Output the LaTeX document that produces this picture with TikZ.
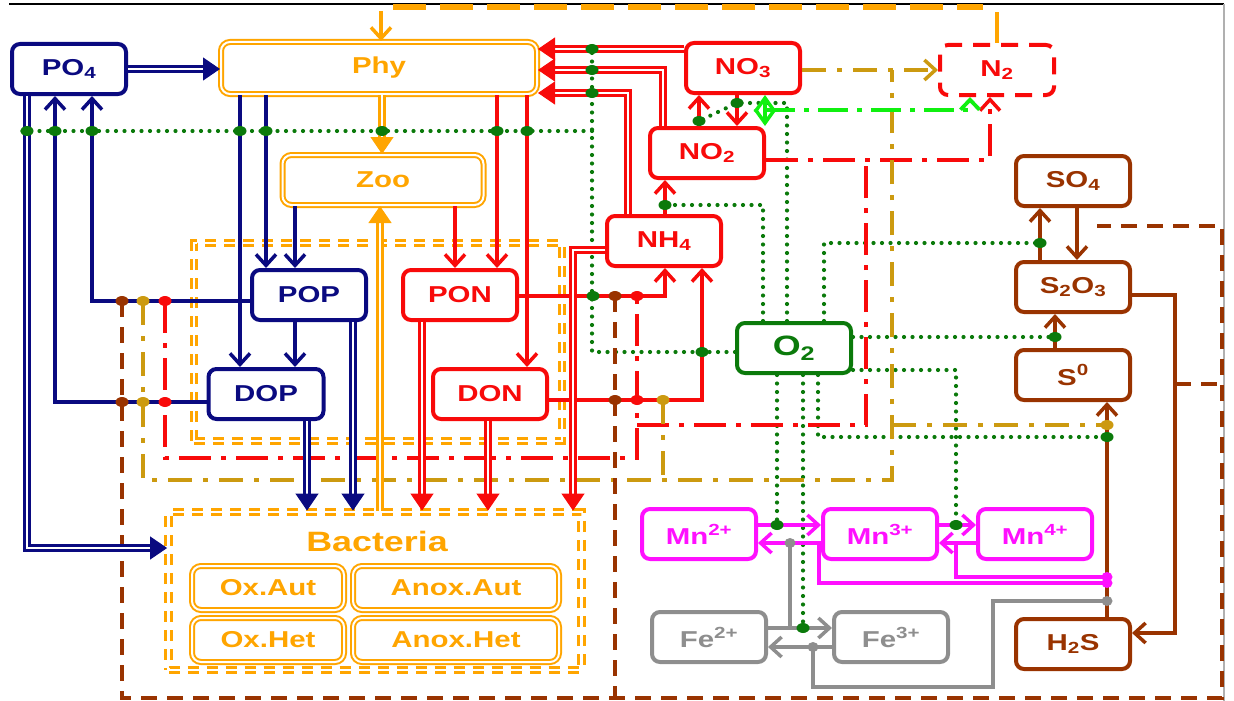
\documentclass[tikz,border=0pt]{standalone}
\usepackage{fontspec}
\setmainfont{Liberation Sans}[FakeStretch=1.28]
\usetikzlibrary{arrows.meta}
\definecolor{pnavy}{HTML}{0A0A80}
\definecolor{porange}{HTML}{FFA500}
\definecolor{nred}{HTML}{F80A0A}
\definecolor{ngold}{HTML}{CC9A10}
\definecolor{sbrown}{HTML}{993300}
\definecolor{ogreen}{HTML}{0B7A0B}
\definecolor{lgreen}{HTML}{10F010}
\definecolor{mnmag}{HTML}{FF10FF}
\definecolor{fegray}{HTML}{8E8E8E}
\tikzset{
  box/.style={rectangle, rounded corners=8pt, line width=4pt, fill=white,
    minimum width=114pt, minimum height=50pt, inner sep=0pt,
    font=\bfseries\fontsize{23}{26}\selectfont},
  pbox/.style={box, draw=pnavy, text=pnavy},
  nbox/.style={box, draw=nred, text=nred},
  sbox/.style={box, draw=sbrown, text=sbrown},
  mbox/.style={box, draw=mnmag, text=mnmag},
  fbox/.style={box, draw=fegray, text=fegray},
  obox/.style={box, draw=porange, text=porange, double, line width=2pt,
    double distance=2pt, rounded corners=9pt},
  dashbox/.style={draw=porange, double, line width=2.8pt, double distance=2.6pt,
    dash pattern=on 11pt off 8pt, inner sep=0pt},
  ar/.style={line width=3.5pt, -{Straight Barb[length=11pt,width=20pt]}},
  dbl/.style={double, line width=2.3pt, double distance=2.6pt, shorten >=16pt},
  bigtip/.style={draw=white, line width=1pt,
    -{Triangle[length=17pt,width=23pt,color=#1,fill=#1]}},
  oxline/.style={draw=ogreen, line width=4.2pt, line cap=round, dash pattern=on 0pt off 8.5pt},
  rdash/.style={draw=nred, line width=3.5pt, dash pattern=on 32pt off 10pt on 5pt off 10pt},
  gdash/.style={draw=ngold, line width=3.5pt, dash pattern=on 24pt off 11pt on 5pt off 11pt},
  bdash/.style={draw=sbrown, line width=4pt, dash pattern=on 16pt off 10pt}
}
\newcommand{\bigarrow}[2]{%
  \draw[dbl, draw=#1] #2;
  \draw[bigtip=#1] #2;}

\begin{document}
\begin{tikzpicture}[x=1pt, y=-1pt]
\useasboundingbox (0,0) rectangle (1234,701);
\draw[line width=1.5pt] (9,4) -- (1224,4);
\draw[fegray!70, line width=1.5pt] (1224,4) -- (1224,701);

% pools
\node[dashbox, minimum width=368pt, minimum height=198pt] (pool) at (378,342) {};
\node[dashbox, minimum width=413pt, minimum height=158pt] (bact) at (375,591) {};
\node[text=porange, font=\bfseries\fontsize{28}{32}\selectfont] (bactlbl) at (377,541) {Bacteria};
\node[obox, minimum width=152pt, minimum height=44pt] (oxaut) at (268,588) {Ox.Aut};
\node[obox, minimum width=206pt, minimum height=44pt] (anoxaut) at (456,588) {Anox.Aut};
\node[obox, minimum width=152pt, minimum height=44pt] (oxhet) at (268,640) {Ox.Het};
\node[obox, minimum width=206pt, minimum height=44pt] (anoxhet) at (456,640) {Anox.Het};

\node[pbox] (po4) at (69,69) {PO\textsubscript{4}};
\node[obox, minimum width=316pt, minimum height=52pt] (phy) at (379,68) {Phy};
\node[obox, minimum width=201pt, minimum height=50pt] (zoo) at (383,180) {Zoo};
\node[nbox] (no3) at (743,68) {NO\textsubscript{3}};
\node[nbox, dash pattern=on 17pt off 11pt] (n2) at (997,70) {N\textsubscript{2}};
\node[nbox] (no2) at (707,153) {NO\textsubscript{2}};
\node[nbox] (nh4) at (664,241) {NH\textsubscript{4}};
\node[pbox] (pop) at (309,295) {POP};
\node[nbox] (pon) at (460,295) {PON};
\node[pbox, minimum width=115pt] (dop) at (266,394) {DOP};
\node[nbox] (don) at (490,394) {DON};
\node[box, draw=ogreen, text=ogreen, font=\bfseries\fontsize{28}{32}\selectfont] (o2) at (794,348) {O\textsubscript{2}};
\node[sbox] (so4) at (1073,181) {SO\textsubscript{4}};
\node[sbox] (s2o3) at (1073,287) {S\textsubscript{2}O\textsubscript{3}};
\node[sbox] (s0) at (1073,375) {S\textsuperscript{0}};
\node[sbox] (h2s) at (1073,644) {H\textsubscript{2}S};
\node[mbox] (mn2) at (699,534) {Mn\textsuperscript{2+}};
\node[mbox] (mn3) at (880,534) {Mn\textsuperscript{3+}};
\node[mbox] (mn4) at (1035,534) {Mn\textsuperscript{4+}};
\node[fbox] (fe2) at (709,637) {Fe\textsuperscript{2+}};
\node[fbox] (fe3) at (891,637) {Fe\textsuperscript{3+}};

% junction points
\coordinate (popb) at (122,301); \coordinate (popg) at (143,301); \coordinate (popr) at (165,301);
\coordinate (dopb) at (122,402); \coordinate (dopg) at (143,402); \coordinate (dopr) at (165,402);
\coordinate (pono) at (593,296); \coordinate (ponb) at (615,296); \coordinate (ponr) at (637,296);
\coordinate (donb) at (615,400); \coordinate (donr) at (637,400); \coordinate (dong) at (663,400);
\coordinate (topl) at (381,7); \coordinate (topr) at (997,7);

% oxygen
\draw[oxline] (o2.west |- 0,352) -| (592,49);
\draw[oxline] (592,131) -- (22,131);
\draw[oxline] (o2.north -| 763,0) |- (665,205);
\draw[oxline] (o2.north -| 787,0) |- (737,103) -- (699,121);
\draw[oxline] (o2.north -| 824,0) |- (1040,243);
\draw[oxline] (o2.east |- 0,337) -- (1055,337);
\draw[oxline] (o2.east |- 0,370) -| (956,525);
\draw[oxline] (o2.south -| 777,0) -- (777,525);
\draw[oxline] (o2.south -| 803,0) -- (803,628);
\draw[oxline] (o2.south -| 818,0) |- (1107,437);

% dash-dot links
\draw[rdash, -{Straight Barb[length=11pt,width=20pt]}] (no2.east |- 0,160) -| (n2.south -| 990,0);
\draw[rdash] (popr) -- (popr |- 0,458) -| (ponr);
\draw[rdash] (donr |- 0,425) -| (866,160);
\draw[gdash, -{Straight Barb[length=11pt,width=20pt]}] (no3.east |- 0,70) -- (n2.west |- 0,70);
\draw[gdash] (popg) -- (popg |- 0,480) -| (892,70);
\draw[gdash] (dong) -- (dong |- 0,480);
\draw[gdash] (892,425) -- (1107,425);
\draw[bdash] (popb) -- (popb |- 0,698) -| (1222,226) -- (1097,226);
\draw[bdash] (ponb) -- (ponb |- 0,698);
\draw[bdash] (1175,384) -- (1222,384);
\draw[lgreen, line width=3.8pt, dash pattern=on 30pt off 9pt on 5pt off 9pt,
  -{Straight Barb[length=10pt,width=19pt]}] (765,110) -| (n2.south -| 970,0);
\draw[lgreen, line width=3.5pt, {Straight Barb[length=14pt,width=20pt]}-{Straight Barb[length=14pt,width=20pt]}]
  (no3.south -| 765,0) -- (765,126);

% phosphorus
\draw[ar, pnavy] (pop.west |- popr) -| (po4.south -| 92,0);
\draw[ar, pnavy] (dop.west |- dopr) -| (po4.south -| 55,0);
\foreach \x/\a/\b in {240/phy/dop, 266/phy/pop, 295/zoo/pop, 295/pop/dop}
  \draw[ar, pnavy] (\a.south -| \x,0) -- (\b.north -| \x,0);
\bigarrow{pnavy}{(po4.east) -- (po4.east -| phy.west)}
\bigarrow{pnavy}{(po4.south -| 27,0) |- (bact.west |- 0,548)}
\bigarrow{pnavy}{(pop.south -| 353,0) -- (bact.north -| 353,0)}
\bigarrow{pnavy}{(dop.south -| 307,0) -- (bact.north -| 307,0)}

% plankton
\draw[porange, line width=6pt, dash pattern=on 33pt off 14pt] ([xshift=12pt]topl) -- ([xshift=-14pt]topr);
\draw[porange, line width=3.5pt] (n2.north) -- ([yshift=-5pt]topr);
\draw[ar, porange] ([yshift=-4pt]topl) -- (phy.north -| topl);
\bigarrow{porange}{(phy.south -| 382,0) -- (zoo.north -| 382,0)}
\bigarrow{porange}{(bact.north -| 380,0) -- (zoo.south -| 380,0)}

% nitrogen
\draw[ar, nred] (no2.north -| 699,0) -- (no3.south -| 699,0);
\draw[ar, nred] (no3.south -| 737,0) -- (no2.north -| 737,0);
\draw[ar, nred] (nh4.north -| 665,0) -- (no2.south -| 665,0);
\foreach \x/\a/\b in {497/phy/pon, 455/zoo/pon, 527/phy/don}
  \draw[ar, nred] (\a.south -| \x,0) -- (\b.north -| \x,0);
\draw[ar, nred] (pon.east |- ponr) -| (nh4.south -| 665,0);
\draw[ar, nred] (don.east |- donr) -| (nh4.south -| 702,0);
\bigarrow{nred}{(no3.west |- 0,49) -- (phy.east |- 0,49)}
\bigarrow{nred}{(no2.north -| 663,0) |- (phy.east |- 0,70)}
\bigarrow{nred}{(nh4.north -| 628,0) |- (phy.east |- 0,93)}
\bigarrow{nred}{(pon.south -| 422,0) -- (bact.north -| 422,0)}
\bigarrow{nred}{(don.south -| 488,0) -- (bact.north -| 488,0)}
\bigarrow{nred}{(nh4.west |- 0,250) -| (bact.north -| 573,0)}

% sulphur
\draw[ar, sbrown] (s2o3.north -| 1040,0) -- (so4.south -| 1040,0);
\draw[ar, sbrown] (so4.south -| 1077,0) -- (s2o3.north -| 1077,0);
\draw[ar, sbrown] (s0.north -| 1055,0) -- (s2o3.south -| 1055,0);
\draw[ar, sbrown] (h2s.north -| 1107,0) -- (s0.south -| 1107,0);
\draw[ar, sbrown] (s2o3.east |- 0,295) -- (1175,295) |- (h2s.east |- 0,633);

% manganese and iron
\draw[ar, mnmag] (mn2.east |- 0,525) -- (mn3.west |- 0,525);
\draw[ar, mnmag] (mn3.west |- 0,543) -- (mn2.east |- 0,543);
\draw[ar, mnmag] (mn3.east |- 0,525) -- (mn4.west |- 0,525);
\draw[ar, mnmag] (mn4.west |- 0,543) -- (mn3.east |- 0,543);
\draw[mnmag, line width=3.5pt] (1107,577) -| (956,543);
\draw[mnmag, line width=3.5pt] (1107,583) -| (819,543);
\draw[ar, fegray] (fe2.east |- 0,628) -- (fe3.west |- 0,628);
\draw[ar, fegray] (fe3.west |- 0,647) -- (fe2.east |- 0,647);
\draw[fegray, line width=3.5pt] (790,543) -- (790,628);
\draw[fegray, line width=3.5pt] (813,647) |- (993,687) |- (1107,601);

% junction dots
\foreach \x/\y in {27/131, 55/131, 92/131, 240/131, 266/131, 382/131, 497/131, 527/131,
  592/49, 592/70, 592/93, 593/296, 702/352, 665/205, 737/103, 699/121, 1040/243,
  1055/337, 956/525, 777/525, 803/628, 1107/437}
  \fill[ogreen] (\x,\y) ellipse (6.5pt and 5pt);
\foreach \p in {popg, dopg, dong} \fill[ngold] (\p) ellipse (6.5pt and 5pt);
\fill[ngold] (1107,425) ellipse (6.5pt and 5pt);
\foreach \p in {popr, dopr, ponr, donr} \fill[nred] (\p) ellipse (6.5pt and 5pt);
\foreach \p in {popb, dopb, ponb, donb} \fill[sbrown] (\p) ellipse (6.5pt and 5pt);
\foreach \y in {577, 583} \fill[mnmag] (1107,\y) ellipse (5.5pt and 5pt);
\foreach \x/\y in {790/543, 813/647, 1107/601} \fill[fegray] (\x,\y) ellipse (5.5pt and 5pt);
\end{tikzpicture}
\end{document}
